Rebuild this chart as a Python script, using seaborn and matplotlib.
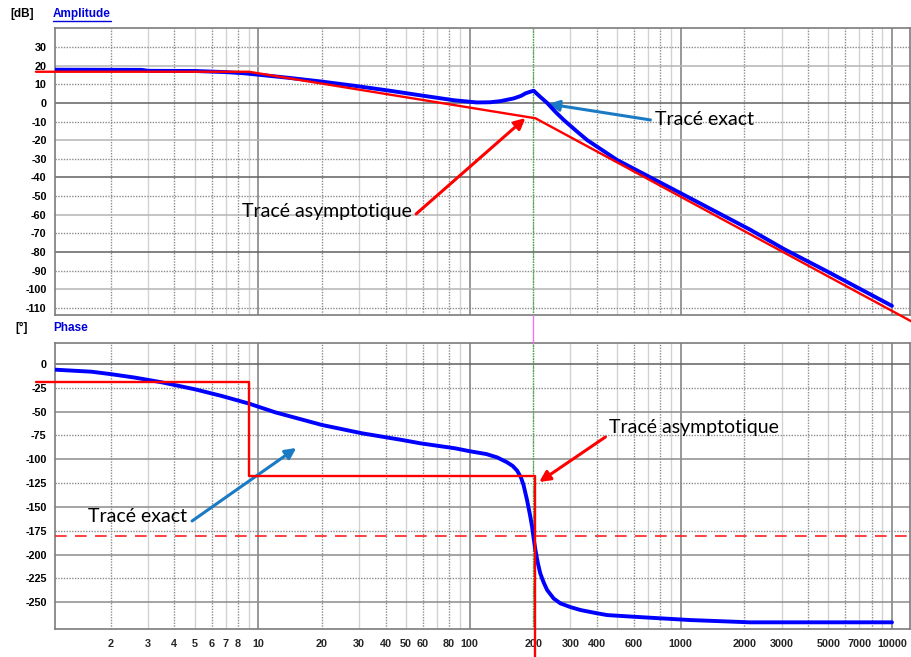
import numpy as np
import pandas as pd
import matplotlib
matplotlib.use("Agg")
import matplotlib.pyplot as plt
import matplotlib.transforms as mtransforms
from matplotlib.ticker import NullLocator
import seaborn as sns

# ---- measured frequency response (Hz) ----
amp_freq = [1.09, 2.8, 3.0, 5.0, 7.0, 8.5, 10, 14, 20, 28.7, 41.3, 59.5, 84, 108,
            125, 140, 162, 175, 184, 193, 201, 215, 233, 255, 279, 320, 360, 499,
            1000, 2125, 3085, 4955, 10000]
amp_db = [17.9, 17.8, 17.3, 17.2, 16.6, 16.0, 15.2, 13.5, 11.5, 9.2, 6.7, 4.0, 1.5, 0.3,
          0.4, 1.0, 2.5, 3.8, 5.2, 6.0, 6.6, 3.5, 0.0, -4.8, -9.1, -15.0, -19.9, -30.6,
          -48.5, -68.0, -78.5, -90.6, -109.0]

phase_freq = [1.09, 1.62, 2.02, 2.60, 3.48, 5.01, 6.71, 9.03, 12.0, 20, 30.9, 47.8, 58.4,
              85.5, 100, 120, 135, 150, 160, 168, 175, 180, 187, 193, 197.6, 201, 205,
              210, 216, 224, 232.8, 250, 269, 300, 335, 390, 448, 594, 1104, 2125, 10000]
phase_deg = [-6.0, -8.1, -10.8, -14.3, -19.2, -26.6, -33.6, -41.6, -50.7, -64.0, -72.7,
             -79.7, -83.2, -88.5, -91.5, -94.5, -98.0, -103.0, -107.0, -112.0, -119.0,
             -127.0, -142.7, -158.0, -170.7, -183.0, -195.2, -208.0, -219.6, -229.0,
             -237.1, -246.0, -251.1, -255.0, -258.1, -261.0, -263.4, -265.1, -268.6,
             -271.0, -271.0]

# ---- asymptotic (straight-line) approximation ----
asym_amp_freq = [0.884, 9.0, 205, 12440]
asym_amp_db = [16.8, 16.8, -8.2, -117.5]
asym_ph_freq = [0.884, 9.0, 9.0, 205, 205]
asym_ph_deg = [-19, -19, -117, -117, -307]

crossover_freq = 200
phase_ref = -180

amp_ticks = list(range(30, -111, -10))
phase_ticks = list(range(0, -251, -25))
freq_ticks = [2, 3, 4, 5, 6, 7, 8, 10, 20, 30, 40, 50, 60, 80, 100, 200, 300, 400, 600,
              1000, 2000, 3000, 5000, 7000, 10000]
freq_labels = [str(v) for v in freq_ticks]

sns.set_style("white")
plt.rcParams["font.family"] = ["Liberation Sans", "DejaVu Sans"]

W, H = 912, 657
fig = plt.figure(figsize=(W / 100, H / 100), dpi=100)


def fx(px):
    return px / W


def fy(py):
    return 1 - py / H


ax1 = fig.add_axes([fx(55), fy(315), fx(910) - fx(55), fy(28) - fy(315)])
ax2 = fig.add_axes([fx(55), fy(629), fx(910) - fx(55), fy(343) - fy(629)])

XMIN, XMAX = 1.088, 12170


def freq_grid(ax):
    for dec in [1, 10, 100, 1000, 10000]:
        for m in range(1, 10):
            f = m * dec
            if f < XMIN or f > XMAX:
                continue
            if m == 1:
                ax.axvline(f, color="#7c7c7c", lw=1.1, zorder=1)
            elif m % 2 == 0:
                ax.axvline(f, color="#8c8c8c", lw=1.0, ls=(0, (1, 1)), zorder=1)
            else:
                ax.axvline(f, color="#d2d2d2", lw=1.0, zorder=1)


def style_axes(ax):
    ax.set_xscale("log")
    ax.set_xlim(XMIN, XMAX)
    ax.xaxis.set_minor_locator(NullLocator())
    for s in ax.spines.values():
        s.set_color("#7c7c7c")
        s.set_linewidth(1.2)
    ax.tick_params(axis="y", direction="out", length=4, width=1, color="#404040",
                   labelsize=7.8, pad=2, labelcolor="black")


# ---------------- amplitude ----------------
style_axes(ax1)
ax1.set_ylim(-113.9, 40.3)
freq_grid(ax1)
for v in amp_ticks:
    if v % 40 == 0:
        ax1.axhline(v, color="#606060", lw=1.1, zorder=1)
    elif v % 20 == 0:
        ax1.axhline(v, color="#b4b4b4", lw=1.1, zorder=1)
    else:
        ax1.axhline(v, color="#8c8c8c", lw=1.0, ls=(0, (1, 1)), zorder=1)
ax1.axvline(crossover_freq, color="#2fb52f", lw=0.9, ls=(0, (1, 1)), zorder=2)
ax1.set_yticks(amp_ticks, labels=[str(v) for v in amp_ticks], fontweight="bold")
ax1.tick_params(axis="x", bottom=False, labelbottom=False)

amp_df = pd.DataFrame({"f": amp_freq, "dB": amp_db})
asym_amp_df = pd.DataFrame({"f": asym_amp_freq, "dB": asym_amp_db})
sns.lineplot(data=amp_df, x="f", y="dB", ax=ax1, color="#0000ff", lw=2.8,
             estimator=None, sort=False, zorder=4)
sns.lineplot(data=asym_amp_df, x="f", y="dB", ax=ax1, color="#ff0000", lw=1.7,
             estimator=None, sort=False, zorder=5)
ax1.lines[-1].set_clip_on(False)
ax1.set_xlabel("")
ax1.set_ylabel("")

# ---------------- phase ----------------
style_axes(ax2)
ax2.set_ylim(-278.0, 22.0)
freq_grid(ax2)
for v in phase_ticks:
    if v == 0:
        ax2.axhline(v, color="#606060", lw=1.1, zorder=1)
    elif v % 50 == 0:
        ax2.axhline(v, color="#8c8c8c", lw=1.1, zorder=1)
    else:
        ax2.axhline(v, color="#8c8c8c", lw=1.0, ls=(0, (1, 1)), zorder=1)
ax2.axvline(crossover_freq, color="#2fb52f", lw=0.9, ls=(0, (1, 1)), zorder=2)
ax2.axhline(phase_ref, color="#ff2020", lw=1.2, ls=(0, (7, 5)), zorder=3)
ax2.set_yticks(phase_ticks, labels=[str(v) for v in phase_ticks], fontweight="bold")
ax2.set_xticks(freq_ticks, labels=freq_labels, fontweight="bold")
ax2.tick_params(axis="x", direction="out", length=4, width=1, color="#404040",
                labelsize=7.8, pad=3)

ph_df = pd.DataFrame({"f": phase_freq, "deg": phase_deg})
asym_ph_df = pd.DataFrame({"f": asym_ph_freq, "deg": asym_ph_deg})
sns.lineplot(data=ph_df, x="f", y="deg", ax=ax2, color="#0000ff", lw=2.8,
             estimator=None, sort=False, zorder=4)
sns.lineplot(data=asym_ph_df, x="f", y="deg", ax=ax2, color="#ff0000", lw=1.7,
             estimator=None, sort=False, zorder=5)
ax2.lines[-1].set_clip_on(False)
ax2.set_xlabel("")
ax2.set_ylabel("")

# cursor line in the gap between the two panels
gap = mtransforms.blended_transform_factory(ax2.transData, fig.transFigure)
fig.add_artist(plt.Line2D([crossover_freq, crossover_freq], [fy(315), fy(343)],
                          transform=gap, color="#ff66ff", lw=0.9))

# ---------------- annotations ----------------
note_font = dict(family=["Lato", "DejaVu Sans"], fontsize=14, color="black")
arrow_blue = dict(arrowstyle="-|>", color="#1a7ac4", lw=2.2, mutation_scale=16,
                  shrinkA=0, shrinkB=0)
arrow_red = dict(arrowstyle="-|>", color="#ff0000", lw=2.2, mutation_scale=16,
                 shrinkA=0, shrinkB=0)

ax1.text(755, -9.1, "Tracé exact", ha="left", va="center", **note_font)
ax1.annotate("", xy=(236, -0.5), xytext=(718, -9.1), arrowprops=arrow_blue)
ax1.text(53.5, -58.5, "Tracé asymptotique", ha="right", va="center", **note_font)
ax1.annotate("", xy=(183.7, -8.1), xytext=(55.8, -59.6), arrowprops=arrow_red)

ax2.text(459, -67.1, "Tracé asymptotique", ha="left", va="center", **note_font)
ax2.annotate("", xy=(213.6, -123.8), xytext=(439.5, -76.6), arrowprops=arrow_red)
ax2.text(4.6, -160.5, "Tracé exact", ha="right", va="center", **note_font)
ax2.annotate("", xy=(15.1, -88.1), xytext=(4.85, -164.7), arrowprops=arrow_blue)

# ---------------- panel headers ----------------
head = dict(fontsize=8.5, fontweight="bold", va="center")
fig.text(fx(10), fy(14), "[dB]", color="black", **head)
amp_title = fig.text(fx(53), fy(14), "Amplitude", color="#0000dd", **head)
fig.text(fx(15), fy(328), "[°]", color="black", **head)
fig.text(fx(53), fy(328), "Phase", color="#0000dd", **head)

fig.canvas.draw()
bb = amp_title.get_window_extent().transformed(fig.transFigure.inverted())
fig.add_artist(plt.Line2D([bb.x0, bb.x1], [bb.y0 - 0.002, bb.y0 - 0.002],
                          transform=fig.transFigure, color="#0000dd", lw=1.0))

fig.savefig("out.png", dpi=100)
